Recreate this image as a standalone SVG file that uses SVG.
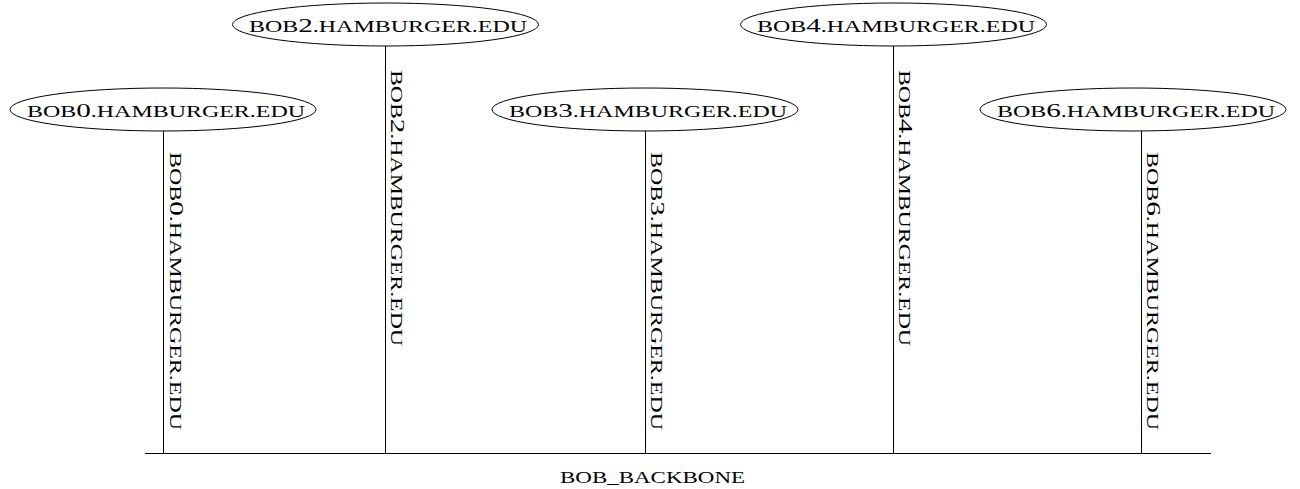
<svg xmlns="http://www.w3.org/2000/svg" width="1300" height="489" viewBox="0 0 1300 489">
<style>
.bg{fill:#ffffff}
ellipse{fill:#ffffff;stroke:#000000;stroke-width:1}
.edge{stroke:#000000;stroke-width:1;fill:none}
text{font-family:"Liberation Serif","Times New Roman",serif;font-size:16px;fill:#000000}
.d{font-size:19.5px}
.lbl{text-anchor:middle}
</style>
<rect class="bg" x="0" y="0" width="1300" height="489"/>
<g id="connectors">
<line class="edge" x1="145" y1="453.5" x2="1211" y2="453.5"/>
<line class="edge" x1="163.5" y1="131" x2="163.5" y2="453.5"/>
<line class="edge" x1="385.5" y1="46" x2="385.5" y2="453.5"/>
<line class="edge" x1="645.5" y1="131" x2="645.5" y2="453.5"/>
<line class="edge" x1="893.5" y1="46" x2="893.5" y2="453.5"/>
<line class="edge" x1="1141.5" y1="131" x2="1141.5" y2="453.5"/>
<text transform="translate(169.5,152) rotate(90)" textLength="278" lengthAdjust="spacingAndGlyphs">BOB<tspan class="d">0</tspan>.HAMBURGER.EDU</text>
<text transform="translate(391,70) rotate(90)" textLength="276" lengthAdjust="spacingAndGlyphs">BOB<tspan class="d">2</tspan>.HAMBURGER.EDU</text>
<text transform="translate(651,152) rotate(90)" textLength="278" lengthAdjust="spacingAndGlyphs">BOB<tspan class="d">3</tspan>.HAMBURGER.EDU</text>
<text transform="translate(899,70) rotate(90)" textLength="276" lengthAdjust="spacingAndGlyphs">BOB<tspan class="d">4</tspan>.HAMBURGER.EDU</text>
<text transform="translate(1147,152) rotate(90)" textLength="278" lengthAdjust="spacingAndGlyphs">BOB<tspan class="d">6</tspan>.HAMBURGER.EDU</text>
</g>
<g id="backbone">
<text x="560" y="483" textLength="185" lengthAdjust="spacingAndGlyphs">BOB_BACKBONE</text>
</g>
<g id="bob0">
<ellipse cx="163" cy="109.5" rx="153" ry="21.5"/>
<text class="lbl" x="166" y="117" textLength="278" lengthAdjust="spacingAndGlyphs">BOB<tspan class="d">0</tspan>.HAMBURGER.EDU</text>
</g>
<g id="bob2">
<ellipse cx="385.5" cy="24.5" rx="153" ry="21.5"/>
<text class="lbl" x="388" y="32" textLength="278" lengthAdjust="spacingAndGlyphs">BOB<tspan class="d">2</tspan>.HAMBURGER.EDU</text>
</g>
<g id="bob3">
<ellipse cx="645" cy="109.5" rx="153" ry="21.5"/>
<text class="lbl" x="648" y="117" textLength="278" lengthAdjust="spacingAndGlyphs">BOB<tspan class="d">3</tspan>.HAMBURGER.EDU</text>
</g>
<g id="bob4">
<ellipse cx="893.5" cy="24.5" rx="153" ry="21.5"/>
<text class="lbl" x="896" y="32" textLength="278" lengthAdjust="spacingAndGlyphs">BOB<tspan class="d">4</tspan>.HAMBURGER.EDU</text>
</g>
<g id="bob6">
<ellipse cx="1133" cy="109.5" rx="153" ry="21.5"/>
<text class="lbl" x="1136" y="117" textLength="278" lengthAdjust="spacingAndGlyphs">BOB<tspan class="d">6</tspan>.HAMBURGER.EDU</text>
</g>
</svg>
